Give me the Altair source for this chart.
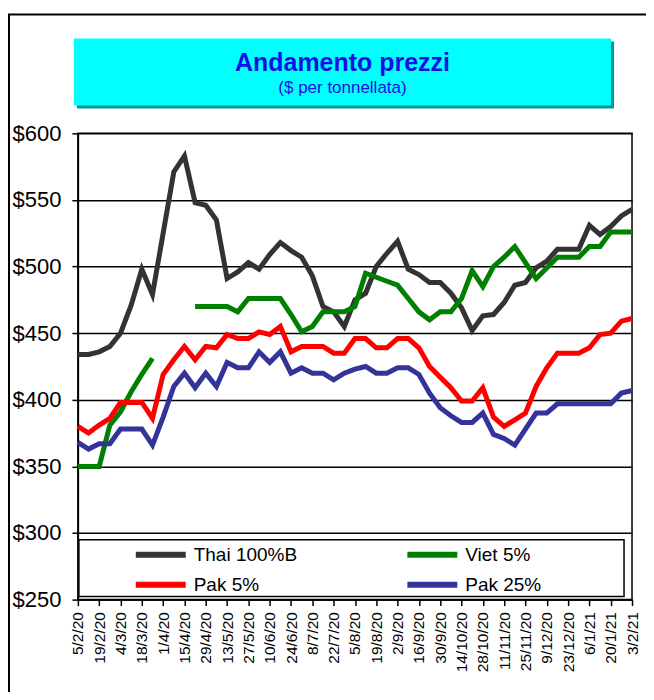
import altair as alt
import pandas as pd

tick_labels = ["5/2/20", "19/2/20", "4/3/20", "18/3/20", "1/4/20", "15/4/20", "29/4/20",
               "13/5/20", "27/5/20", "10/6/20", "24/6/20", "8/7/20", "22/7/20", "5/8/20",
               "19/8/20", "2/9/20", "16/9/20", "30/9/20", "14/10/20", "28/10/20", "11/11/20",
               "25/11/20", "9/12/20", "23/12/20", "6/1/21", "20/1/21", "3/2/21"]

series_names = ["Thai 100%B", "Viet 5%", "Pak 5%", "Pak 25%"]
series_colors = ["#333333", "#008000", "#FF0000", "#333399"]
# legend fills column by column: order so that rows read Thai/Viet, Pak 5%/Pak 25%
legend_order = ["Thai 100%B", "Pak 5%", "Viet 5%", "Pak 25%"]
legend_colors = ["#333333", "#FF0000", "#008000", "#333399"]

thai = [434, 434, 436, 440, 450, 471, 498, 479, 525, 571, 583, 548, 546, 535, 491, 496, 503, 498,
        509, 518, 512, 507, 493, 470, 466, 455, 475, 480, 500, 510, 519, 498, 494, 488, 488, 480,
        469, 452, 463, 464, 473, 486, 488, 499, 504, 513, 513, 513, 531, 524, 530, 538, 543]
viet = [350, 350, 350, 381, 391, 406, 419, 431, None, None, None, 470, 470, 470, 470, 466, 476, 476,
        476, 476, 464, 451, 455, 466, 466, 466, 470, 495, 492, 489, 486, 476, 466, 460, 466, 466,
        476, 497, 485, 500, 507, 515, 503, 491, 499, 507, 507, 507, 515, 515, 526, 526, 526]
pak5 = [380, 375, 381, 386, 398, 398, 398, 386, 419, 430, 440, 430, 440, 439, 449, 446, 446, 451,
        449, 455, 436, 440, 440, 440, 435, 435, 446, 446, 439, 439, 446, 446, 439, 425, 417, 409,
        399, 399, 409, 387, 380, 385, 390, 410, 424, 435, 435, 435, 439, 449, 450, 459, 461]
pak25 = [368, 363, 367, 367, 378, 378, 378, 366, 387, 410, 420, 409, 420, 410, 428, 424, 424, 436,
         428, 436, 420, 424, 420, 420, 415, 420, 423, 425, 420, 420, 424, 424, 419, 405, 394, 388,
         383, 383, 390, 374, 371, 366, 378, 390, 390, 397, 397, 397, 397, 397, 397, 405, 407]

y_ticks = [250, 300, 350, 400, 450, 500, 550, 600]

rows = []
for name, vals in zip(series_names, [thai, viet, pak5, pak25]):
    seg = 0
    for i, v in enumerate(vals):
        if v is None:
            seg += 1
            continue
        rows.append({"week": i, "price": v, "serie": name, "seg": f"{name}-{seg}"})
df = pd.DataFrame(rows)

label_js = "[" + ",".join(f"'{s}'" for s in tick_labels) + "]"
FONT = "Liberation Sans"

lines = alt.Chart(df).mark_line(strokeWidth=5).encode(
    x=alt.X("week:Q",
            scale=alt.Scale(domain=[0, 52], nice=False, zero=False),
            axis=alt.Axis(values=list(range(0, 53, 2)),
                          labelExpr=f"{label_js}[datum.value/2]",
                          labelAngle=270, labelAlign="right", labelBaseline="middle",
                          labelFontSize=15.5, labelPadding=6, tickSize=6, grid=False,
                          title=None, labelOverlap=False)),
    y=alt.Y("price:Q",
            scale=alt.Scale(domain=[250, 600], nice=False, zero=False),
            axis=alt.Axis(values=y_ticks, labelExpr="'$' + datum.value",
                          labelFontSize=22, labelPadding=11, tickSize=6, grid=True,
                          title=None)),
    color=alt.Color("serie:N",
                    scale=alt.Scale(domain=legend_order, range=legend_colors),
                    legend=alt.Legend(orient="none", legendX=55, legendY=408, columns=2,
                                      title=None, symbolType="stroke", symbolSize=2500,
                                      symbolStrokeWidth=6, clipHeight=28, rowPadding=2,
                                      columnPadding=107, labelFontSize=19, labelFont=FONT,
                                      labelColor="black", labelOffset=5, padding=0)),
    detail="seg:N",
)

one = alt.Data(values=[{}])

legend_box = alt.Chart(one).mark_rect(fill="white", stroke="black", strokeWidth=1.5).encode(
    x=alt.value(1), x2=alt.value(547), y=alt.value(407), y2=alt.value(464))

frame = alt.Chart(one).mark_rect(fill=None, stroke="black", strokeWidth=2).encode(
    x=alt.value(-69), x2=alt.value(620), y=alt.value(-119), y2=alt.value(620))

shadow = alt.Chart(one).mark_rect(color="#009999").encode(
    x=alt.value(-1), x2=alt.value(537), y=alt.value(-92), y2=alt.value(-25))
title_box = alt.Chart(one).mark_rect(color="#00FFFF").encode(
    x=alt.value(-4), x2=alt.value(534), y=alt.value(-95), y2=alt.value(-28))
title_text = alt.Chart(one).mark_text(text="Andamento prezzi", font=FONT, fontSize=25,
                                      fontWeight="bold", color="#1410E6",
                                      baseline="middle", align="center").encode(
    x=alt.value(265), y=alt.value(-70))
sub_text = alt.Chart(one).mark_text(text="($ per tonnellata)", font=FONT, fontSize=17,
                                    color="#1410E6", baseline="middle", align="center").encode(
    x=alt.value(265), y=alt.value(-45))

chart = alt.layer(frame, shadow, title_box, title_text, sub_text, legend_box, lines).properties(
    width=555, height=467,
    autosize=alt.AutoSizeParams(type="none"),
    padding={"left": 70, "top": 125, "right": 14, "bottom": 92},
    background="white",
).configure_view(stroke="black", strokeWidth=1.5).configure_axis(
    labelFont=FONT, labelColor="black", domainColor="black", domainWidth=1.5,
    tickColor="black", tickWidth=1.5, gridColor="black", gridWidth=1.5, gridOpacity=1,
)

chart.save("out.html", embed_options={"renderer": "svg", "actions": False})
